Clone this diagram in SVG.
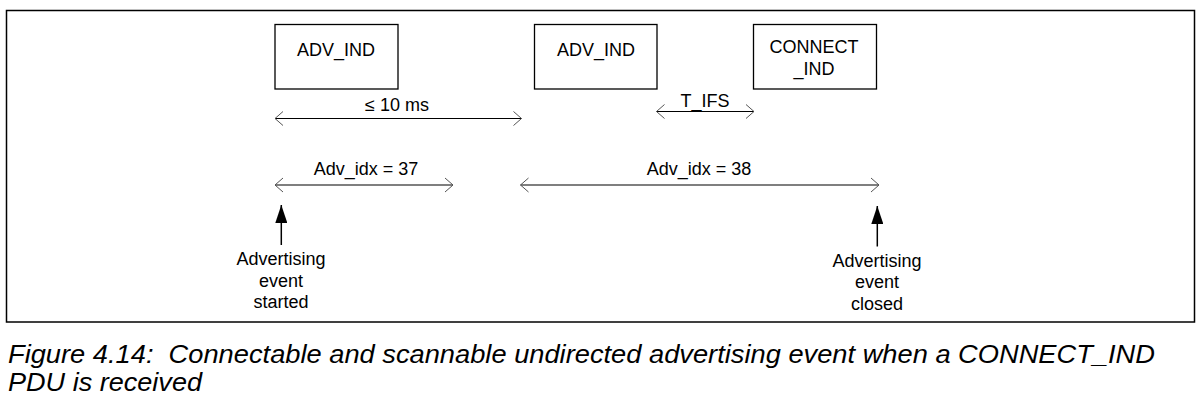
<svg xmlns="http://www.w3.org/2000/svg" width="1203" height="411" viewBox="0 0 1203 411">
  <defs>
    <marker id="open" viewBox="0 0 10 16" refX="9" refY="8" markerWidth="10" markerHeight="16" markerUnits="userSpaceOnUse" orient="auto-start-reverse">
      <path d="M1,1 L9,8 L1,15" fill="none" stroke="#555" stroke-width="1"/>
    </marker>
    <marker id="solid" viewBox="0 0 12 18" refX="6" refY="0" markerWidth="12" markerHeight="18" markerUnits="userSpaceOnUse" orient="0">
      <path d="M6,0 L12,18 L0,18 Z" fill="#000"/>
    </marker>
  </defs>
  <style>
    .frame { fill: none; stroke: #000; stroke-width: 1.5; }
    .box { fill: #fff; stroke: #000; stroke-width: 1.3; }
    .lbl { font-family: "Liberation Sans", Arial, sans-serif; font-size: 18px; fill: #000; text-anchor: middle; }
    .dim { stroke: #000; stroke-width: 1.2; fill: none; marker-start: url(#open); marker-end: url(#open); }
    .up { stroke: #000; stroke-width: 1.5; fill: none; }
    .cap { font-family: "Liberation Sans", Arial, sans-serif; font-size: 25px; font-style: italic; fill: #000; }
  </style>
  <rect width="1203" height="411" fill="#fff"/>
  <rect class="frame" x="6.5" y="10.5" width="1188" height="311.5"/>

  <g id="adv-ind-1">
    <rect class="box" x="275" y="24.5" width="123" height="64.5"/>
    <text class="lbl" x="336" y="56">ADV_IND</text>
  </g>
  <g id="adv-ind-2">
    <rect class="box" x="534.5" y="24.5" width="122.5" height="64.5"/>
    <text class="lbl" x="596" y="56">ADV_IND</text>
  </g>
  <g id="connect-ind">
    <rect class="box" x="753.5" y="24.5" width="123" height="64.5"/>
    <text class="lbl" x="814" y="52.5">CONNECT</text>
    <text class="lbl" x="814" y="75">_IND</text>
  </g>

  <g id="connectors">
    <line class="dim" x1="275" y1="118.5" x2="521.5" y2="118.5"/>
    <line class="dim" x1="656.5" y1="111.5" x2="754" y2="111.5"/>
    <line class="dim" x1="275" y1="185" x2="453" y2="185"/>
    <line class="dim" x1="520.5" y1="185" x2="879" y2="185"/>
    <line class="up" x1="281.3" y1="245" x2="281.3" y2="205" marker-end="url(#solid)"/>
    <line class="up" x1="877.3" y1="246.5" x2="877.3" y2="206" marker-end="url(#solid)"/>
  </g>

  <g id="dimension-labels">
    <text class="lbl" x="397" y="111">≤ 10 ms</text>
    <text class="lbl" x="705" y="107">T_IFS</text>
    <text class="lbl" x="366" y="175">Adv_idx = 37</text>
    <text class="lbl" x="699" y="175">Adv_idx = 38</text>
  </g>

  <g id="event-started">
    <text class="lbl" x="281" y="265">Advertising</text>
    <text class="lbl" x="281" y="286.5">event</text>
    <text class="lbl" x="281" y="307.5">started</text>
  </g>
  <g id="event-closed">
    <text class="lbl" x="877" y="266.5">Advertising</text>
    <text class="lbl" x="877" y="288">event</text>
    <text class="lbl" x="877" y="309.5">closed</text>
  </g>

  <g id="caption">
    <text class="cap" x="8" y="363" textLength="1147" lengthAdjust="spacingAndGlyphs" xml:space="preserve">Figure 4.14:  Connectable and scannable undirected advertising event when a CONNECT_IND</text>
    <text class="cap" x="8" y="391" textLength="194" lengthAdjust="spacingAndGlyphs">PDU is received</text>
  </g>
</svg>
